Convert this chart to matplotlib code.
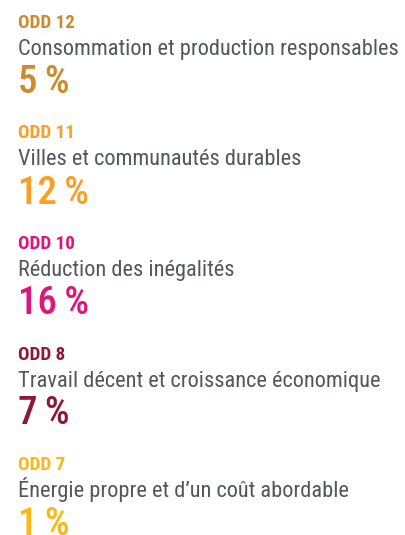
import matplotlib
matplotlib.use("Agg")
import matplotlib.pyplot as plt
from matplotlib import font_manager

goals = ["ODD 12", "ODD 11", "ODD 10", "ODD 8", "ODD 7"]
titles = [
    "Consommation et production responsables",
    "Villes et communautés durables",
    "Réduction des inégalités",
    "Travail décent et croissance économique",
    "Énergie propre et d’un coût abordable",
]
shares = [5, 12, 16, 7, 1]
colors = ["#CD8B2C", "#FD9D24", "#E0147A", "#8E1838", "#FCB714"]
grey = "#52565E"

# pick the narrowest family that is installed
fonts = font_manager.fontManager.ttflist
family, stretch = "DejaVu Sans", "normal"
for name in ["Roboto Condensed", "Liberation Sans Narrow", "Open Sans Condensed"]:
    if any(f.name == name for f in fonts):
        family = name
        break
else:
    for name in ["Roboto", "Noto Sans", "Open Sans", "DejaVu Sans"]:
        st = [f.stretch for f in fonts if f.name == name and f.stretch != "normal"]
        if st:
            family, stretch = name, st[0]
            break

W, H = 405, 535
fig = plt.figure(figsize=(W / 100, H / 100), dpi=100)
fig.patch.set_facecolor("white")
renderer = fig.canvas.get_renderer()


def fit(text, size, weight, target):
    # font size that gives the target width in pixels
    t = fig.text(0, 0, text, fontsize=size, fontweight=weight, family=family, stretch=stretch)
    w = t.get_window_extent(renderer).width
    t.remove()
    return size * target / w


label_fs = min(15, fit("ODD 12", 14, "bold", 57))
title_fs = min(20, fit(titles[0], 18, "normal", 380))
num_fs = 28

x0 = 18 / W
step = 110.5
for i, (g, t, s, c) in enumerate(zip(goals, titles, shares, colors)):
    top = i * step
    fig.text(x0, 1 - (top + 28) / H, g, color=c, fontsize=label_fs, fontweight="bold",
             family=family, stretch=stretch, va="baseline")
    fig.text(x0, 1 - (top + 55) / H, t, color=grey, fontsize=title_fs,
             family=family, stretch=stretch, va="baseline")
    fig.text(x0, 1 - (top + 93) / H, f"{s}\u2009%", color=c, fontsize=num_fs,
             fontweight="medium", family=family, stretch=stretch, va="baseline")

fig.savefig("out.png", dpi=100, facecolor="white")
